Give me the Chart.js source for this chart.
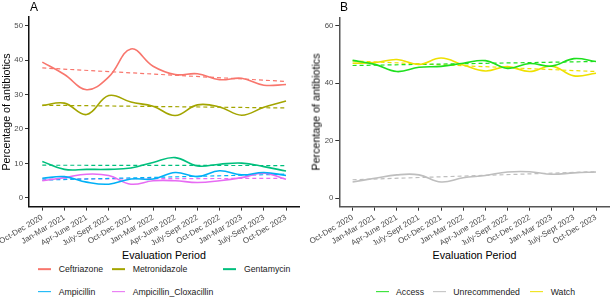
<!DOCTYPE html>
<html><head><meta charset="utf-8">
<script src="https://cdn.jsdelivr.net/npm/chart.js@4.4.1/dist/chart.umd.min.js"></script>
<style>
body{margin:0;width:610px;height:297px;background:#fff;position:relative;overflow:hidden;font-family:"Liberation Sans",Arial,sans-serif;}
canvas{position:absolute;top:0;}
.t{position:absolute;white-space:nowrap;color:#000;line-height:1;}
.ytitle{position:absolute;white-space:nowrap;font-size:10.7px;transform:translate(-50%,-50%) rotate(-90deg);line-height:1;}
.xtitle{position:absolute;white-space:nowrap;font-size:10.7px;transform:translate(-50%,-50%);line-height:1;}
.leg{position:absolute;font-size:8.7px;white-space:nowrap;transform:translateY(-50%);line-height:1;color:#1a1a1a;}
.sw{position:absolute;height:1.7px;transform:translateY(-50%);}
</style>
</head><body>
<canvas id="cA" width="305" height="245" style="left:0"></canvas>
<canvas id="cB" width="305" height="245" style="left:305px"></canvas>
<div class="t" style="left:30px;top:1px;font-size:12px">A</div>
<div class="t" style="left:340px;top:1px;font-size:12px">B</div>
<div class="ytitle" style="left:6px;top:111.5px">Percentage of antibiotics</div>
<div class="ytitle" style="left:315.5px;top:111.5px">Percentage of antibiotics</div>
<div class="xtitle" style="left:164px;top:255px">Evaluation Period</div>
<div class="xtitle" style="left:474.5px;top:255px">Evaluation Period</div>
<div id="legA"></div>
<div id="legB"></div>
<script>
const periods = ['Oct-Dec 2020','Jan-Mar 2021','Apr-June 2021','July-Sept 2021','Oct-Dec 2021','Jan-Mar 2022','Apr-June 2022','July-Sept 2022','Oct-Dec 2022','Jan-Mar 2023','July-Sept 2023','Oct-Dec 2023'];

// Panel A: individual antibiotics
const namesA = ['Ceftriazone','Metronidazole','Gentamycin','Ampicillin','Ampicillin_Cloxacillin'];
const ceftriazone = [39.4,35.8,31.4,35.1,43.2,38.2,35.8,36.0,34.3,34.7,32.7,32.9];
const metronidazole = [26.8,27.5,24.2,29.7,27.8,26.6,23.9,27.0,26.4,24.0,26.3,28.1];
const gentamycin = [10.6,8.3,8.3,8.3,8.7,10.3,11.7,9.3,9.8,10.1,9.1,7.8];
const ampicillin = [5.7,6.2,4.6,4.0,5.5,5.5,7.4,6.2,7.9,6.7,7.4,6.5];
const ampicillinCloxacillin = [5.0,5.9,6.9,6.5,4.0,5.0,5.0,4.5,5.0,5.9,7.2,5.4];
const trendStartA = [37.7,26.9,9.5,5.2,5.5];
const trendEndA = [33.8,26.1,9.4,6.9,5.7];
const yTicksA = [0,10,20,30,40,50];

// Panel B: AWaRe groups
const namesB = ['Access','Unrecommended','Watch'];
const access = [48.0,46.6,44.1,45.6,45.9,47.0,47.9,45.2,46.9,46.0,48.6,47.6];
const unrecommended = [5.6,6.9,8.1,8.1,5.6,7.1,7.9,9.1,9.2,8.3,8.8,9.1];
const watch = [47.0,47.2,48.3,46.6,48.8,46.4,44.3,45.8,44.1,46.0,42.6,43.5];
const trendStartB = [46.2,6.4,47.8];
const trendEndB = [47.6,9.2,44.1];
const yTicksB = [0,20,40,60];

const coloursA = ['#F8766D','#A3A500','#00BF7D','#00B0F6','#E76BF3'];
const coloursB = ['#1EE01E','#BEBEBE','#EEE000'];

function buildDatasets(seriesList, starts, ends, colours){
  const ds = [];
  seriesList.forEach((vals, k) => {
    ds.push({data: vals.map((v,i)=>({x:i,y:v})), borderColor: colours[k], borderWidth:1.6, tension:0.4, pointRadius:0, fill:false});
  });
  seriesList.forEach((vals, k) => {
    ds.push({data: [{x:0,y:starts[k]},{x:vals.length-1,y:ends[k]}], borderColor: colours[k], borderWidth:1.2, borderDash:[4,3], pointRadius:0, fill:false});
  });
  return ds;
}

function makeChart(id, datasets, yMin, yMax, yTicks, yWidth, axisY, pad, axisColor){
  const H = 245;
  return new Chart(document.getElementById(id), {
    type:'line',
    data:{datasets},
    options:{
      responsive:false, animation:false, devicePixelRatio:1,
      layout:{padding:pad},
      plugins:{legend:{display:false}, tooltip:{enabled:false}},
      scales:{
        x:{type:'linear', min:-0.6, max:periods.length-1+0.6,
          afterBuildTicks:(ax)=>{ax.ticks = periods.map((_,i)=>({value:i}));},
          afterFit:(s)=>{s.height = H-axisY; s.paddingLeft=0; s.paddingRight=0;},
          ticks:{autoSkip:false, maxRotation:31, minRotation:31, padding:2, color:'#4D4D4D', font:{family:'Liberation Sans', size:8}, callback:(v)=>periods[v] ?? ''},
          grid:{drawOnChartArea:false, drawTicks:true, tickLength:4, tickColor:'#333', tickWidth:1},
          border:{display:true, color:axisColor, width:1.5}
        },
        y:{min:yMin, max:yMax,
          afterBuildTicks:(ax)=>{ax.ticks = yTicks.map(v=>({value:v}));},
          afterFit:(s)=>{s.width = yWidth; s.paddingTop=0; s.paddingBottom=0;},
          ticks:{padding:2, color:'#4D4D4D', font:{family:'Liberation Sans', size:7.8}},
          grid:{drawOnChartArea:false, drawTicks:true, tickLength:4, tickColor:'#333', tickWidth:1},
          border:{display:true, color:axisColor, width:1.5}
        }
      }
    }
  });
}

makeChart('cA', buildDatasets([ceftriazone,metronidazole,gentamycin,ampicillin,ampicillinCloxacillin], trendStartA, trendEndA, coloursA),
  -2.5, 52.5, yTicksA, 29, 206.6, {left:0,right:5.7,top:16.9,bottom:0}, '#111');
makeChart('cB', buildDatasets([access,unrecommended,watch], trendStartB, trendEndB, coloursB),
  -3, 63, yTicksB, 34.3, 206.7, {left:0,right:0.7,top:17.3,bottom:0}, '#555');

function legend(containerId, names, colours, positions){
  const c = document.getElementById(containerId);
  names.forEach((n,k)=>{
    const p = positions[k];
    const sw = document.createElement('div');
    sw.className='sw'; sw.style.left=p[0]+'px'; sw.style.top=p[2]+'px'; sw.style.width='13px'; sw.style.background=colours[k];
    c.appendChild(sw);
    const t = document.createElement('div');
    t.className='leg'; t.style.left=p[1]+'px'; t.style.top=p[2]+'px'; t.textContent=n;
    c.appendChild(t);
  });
}
legend('legA', namesA, coloursA, [[37.5,58.7,269.3],[111.5,132.7,269.3],[223,244,269.3],[37.5,58.7,291.7],[111.5,132.7,291.7]]);
legend('legB', namesB, coloursB, [[376,396,291.7],[432.5,453.3,291.7],[530,550.7,291.7]]);
</script>
</body></html>
